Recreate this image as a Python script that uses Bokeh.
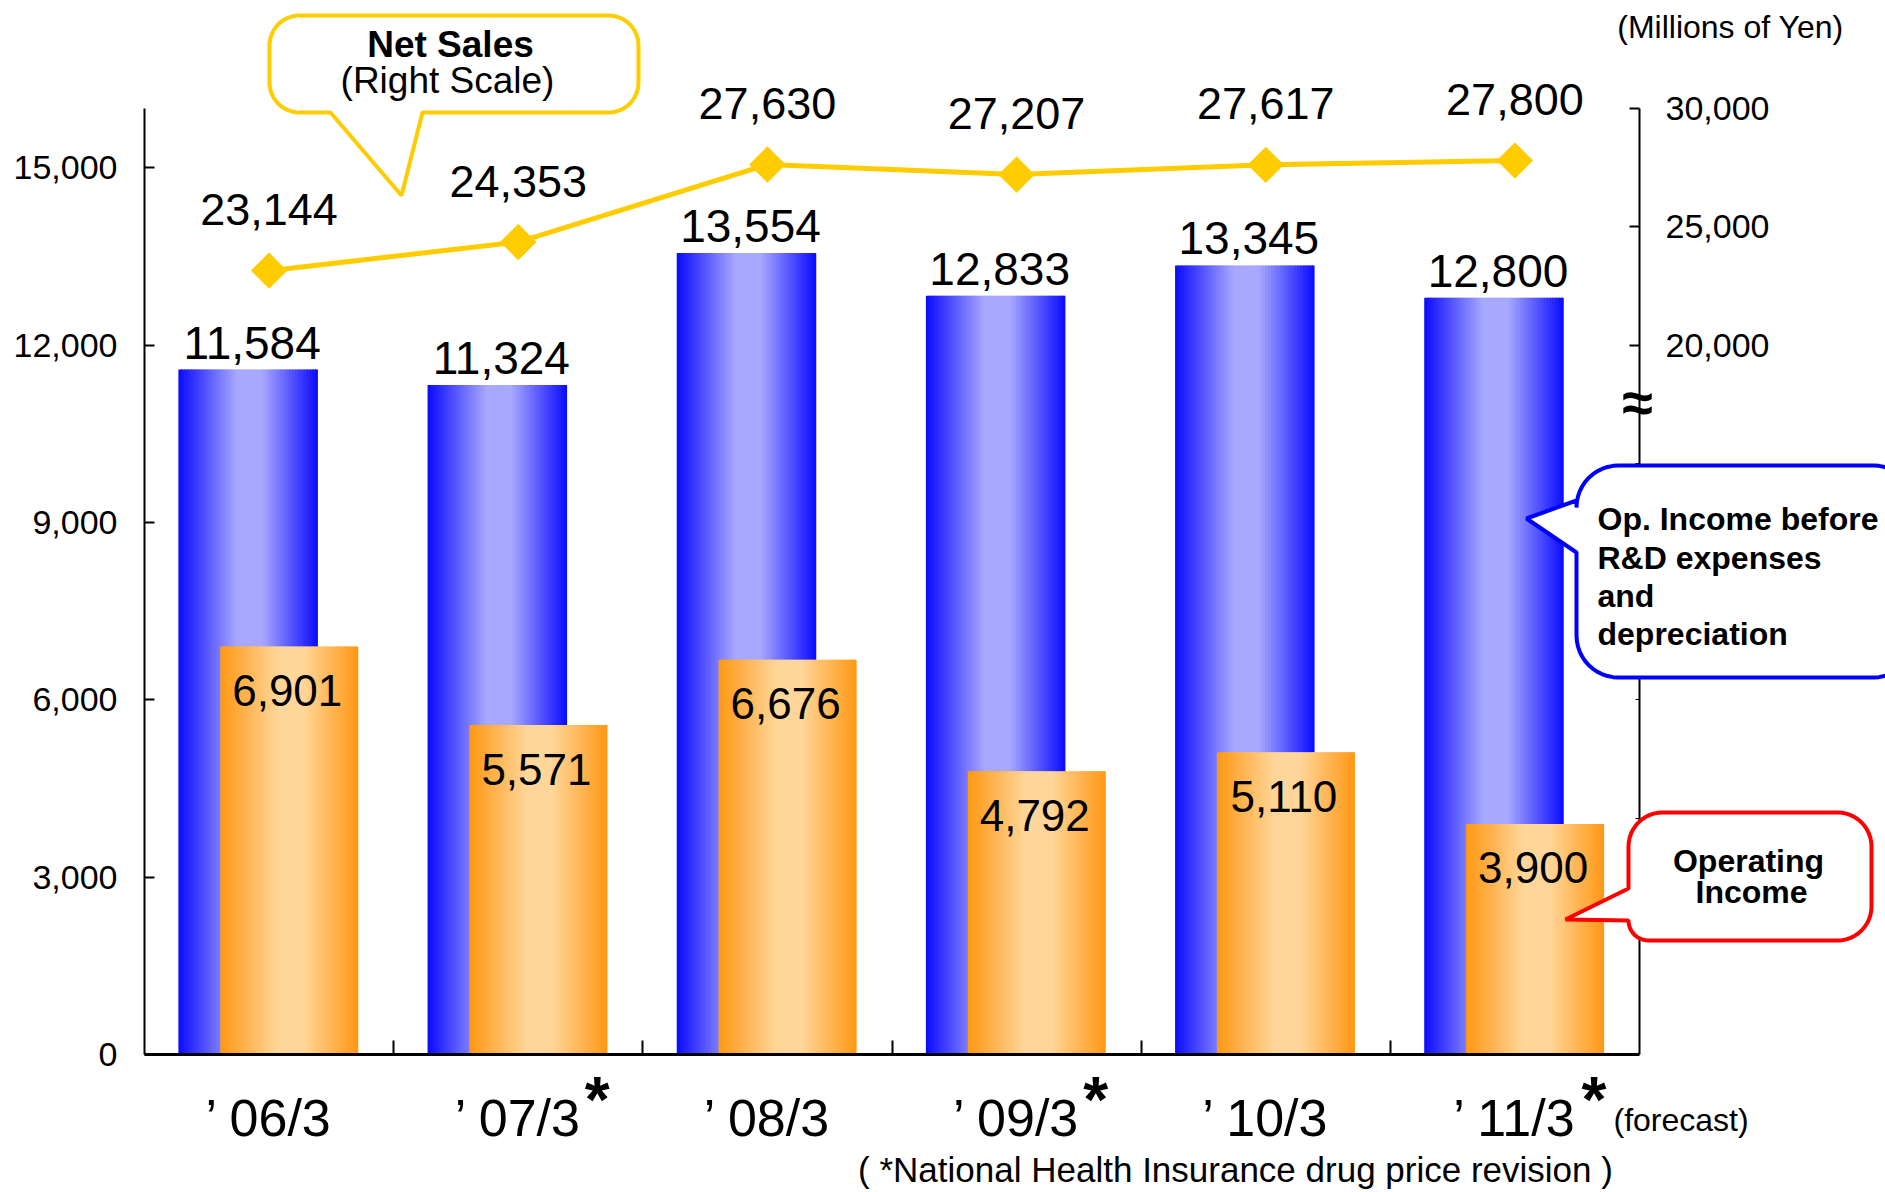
import math
from bokeh.plotting import figure
from bokeh.models import (Range1d, LinearAxis, FixedTicker, Label, LabelSet,
                          ColumnDataSource, PolyAnnotation, NumeralTickFormatter)
from bokeh.core.properties import value
from bokeh.embed import file_html
from bokeh.resources import INLINE

# ---------------- data ----------------
categories = ["’ 06/3", "’ 07/3", "’ 08/3", "’ 09/3", "’ 10/3", "’ 11/3"]
price_revision = [False, True, False, True, False, True]
op_income_before_rd = [11584, 11324, 13554, 12833, 13345, 12800]
operating_income = [6901, 5571, 6676, 4792, 5110, 3900]
net_sales = [23144, 24353, 27630, 27207, 27617, 27800]
left_ticks = [0, 3000, 6000, 9000, 12000, 15000]
right_ticks = [20000, 25000, 30000]
right_minor_ticks = [-5000, 0, 5000, 10000, 15000]

# ---------------- layout ----------------
W, H = 1885, 1192
# plot area (axes box) in canvas pixels
AX_L, AX_R, AX_T, AX_B = 144, 1639, 108, 1054
n = len(categories)
LEFT_MAX = 16000
RIGHT_MIN, RIGHT_MAX = -10000, 30000
F = "Liberation Sans"

x_per_px = n / (AX_R - AX_L)
yl_per_px = LEFT_MAX / (AX_B - AX_T)
yr_per_px = (RIGHT_MAX - RIGHT_MIN) / (AX_B - AX_T)


def px2x(px):
    return (px - AX_L) * x_per_px


def py2y(py):
    return (AX_B - py) * yl_per_px


p = figure(width=W, height=H,
           x_range=Range1d(px2x(0), px2x(W)),
           y_range=Range1d(py2y(H), py2y(0)),
           output_backend="svg", toolbar_location=None,
           min_border=0, min_border_left=0, min_border_right=0,
           min_border_top=0, min_border_bottom=0)
p.extra_y_ranges = {"ns": Range1d(RIGHT_MIN - (H - AX_B) * yr_per_px,
                                  RIGHT_MAX + AX_T * yr_per_px)}
p.xgrid.visible = False
p.ygrid.visible = False
p.outline_line_color = None
p.background_fill_color = "white"
p.border_fill_color = "white"

# ---------------- axes ----------------
ya = p.yaxis[0]
ya.fixed_location = 0
ya.bounds = (0, LEFT_MAX)
ya.ticker = FixedTicker(ticks=left_ticks)
ya.formatter = NumeralTickFormatter(format="0,0")
ya.major_tick_in = 10
ya.major_tick_out = 0
ya.minor_tick_line_color = None
ya.axis_line_width = 2
ya.major_tick_line_width = 2
ya.major_label_text_font = F
ya.major_label_text_font_size = "34px"
ya.major_label_text_color = "black"
ya.major_label_standoff = 27

centers = [i + 0.5 for i in range(n)]
xa = p.xaxis[0]
xa.fixed_location = 0
xa.bounds = (0, n)
xa.ticker = FixedTicker(ticks=centers, minor_ticks=list(range(1, n)))
xa.major_label_overrides = {c: lab for c, lab in zip(centers, categories)}
xa.major_tick_in = 0
xa.major_tick_out = 0
xa.minor_tick_in = 14
xa.minor_tick_out = 0
xa.minor_tick_line_width = 2
xa.axis_line_width = 3
xa.major_label_text_font = F
xa.major_label_text_font_size = "52px"
xa.major_label_text_color = "black"
xa.major_label_standoff = 34

ra = LinearAxis(y_range_name="ns")
ra.fixed_location = n
ra.bounds = (RIGHT_MIN, RIGHT_MAX)
ra.ticker = FixedTicker(ticks=right_ticks, minor_ticks=right_minor_ticks)
ra.formatter = NumeralTickFormatter(format="0,0")
ra.major_tick_in = 10
ra.major_tick_out = 0
ra.minor_tick_in = 4
ra.minor_tick_out = 0
ra.axis_line_width = 2
ra.major_tick_line_width = 2
ra.major_label_text_font = F
ra.major_label_text_font_size = "34px"
ra.major_label_text_color = "black"
ra.major_label_standoff = 26
p.add_layout(ra, "right")

# ---------------- gradient bars ----------------
NSTRIP = 48


def grad_color(edge, light, t):
    f = max(0.0, min(t / 0.42, (1 - t) / 0.40, 1.0))
    c = [round(e + (l - e) * f) for e, l in zip(edge, light)]
    return "#%02x%02x%02x" % tuple(c)


def gradient_bars(vals, offset, width, edge, light):
    L, R, T, C = [], [], [], []
    for i, v in enumerate(vals):
        left = i + 0.5 + offset - width / 2
        right = left + width
        sw = width / NSTRIP
        for k in range(NSTRIP):
            l = left + k * sw
            L.append(l)
            R.append(min(l + sw * 1.6, right))
            T.append(v)
            C.append(grad_color(edge, light, (k + 0.5) / NSTRIP))
    src = ColumnDataSource(dict(left=L, right=R, top=T, bottom=[0] * len(L), color=C))
    p.quad(left="left", right="right", top="top", bottom="bottom", source=src,
           fill_color="color", line_color=None)


BLUE_OFF, BLUE_W = -0.084, 0.56
OR_OFF, OR_W = 0.081, 0.554
gradient_bars(op_income_before_rd, BLUE_OFF, BLUE_W, (10, 10, 255), (168, 168, 255))
gradient_bars(operating_income, OR_OFF, OR_W, (255, 152, 20), (255, 214, 153))

# ---------------- net sales line ----------------
p.line(x=centers, y=net_sales, y_range_name="ns", line_color="#FFCC00", line_width=5)
p.scatter(x=centers, y=net_sales, y_range_name="ns", marker="square", angle=math.pi / 4,
          size=25, fill_color="#FFCC00", line_color="#FFCC00")


# ---------------- callouts ----------------
def callout(x0, y0, x1, y1, radii, side, tail):
    rtl, rtr, rbr, rbl = radii
    pts = []

    def arc(cx, cy, r, a0, a1, steps=12):
        for s in range(steps + 1):
            a = math.radians(a0 + (a1 - a0) * s / steps)
            pts.append((cx + r * math.cos(a), cy + r * math.sin(a)))

    arc(x1 - rtr, y0 + rtr, rtr, -90, 0)
    arc(x1 - rbr, y1 - rbr, rbr, 0, 90)
    if side == "bottom":
        pts.extend(tail)
    arc(x0 + rbl, y1 - rbl, rbl, 90, 180)
    if side == "left":
        pts.extend(tail)
    arc(x0 + rtl, y0 + rtl, rtl, 180, 270)
    return [px2x(a) for a, b in pts], [py2y(b) for a, b in pts]


for (box, radii, side, tail, col) in [
    ((269, 15, 638, 112), (30, 30, 30, 30), "bottom", [(422, 112), (401, 195), (330, 112)], "#FFCC00"),
    ((1576, 465, 1915, 677), (42, 42, 42, 42), "left", [(1576, 552), (1526, 518), (1576, 500)], "#0000FF"),
    ((1628, 812, 1871, 940), (34, 34, 34, 20), "left", [(1628, 920), (1565, 919), (1628, 888)], "#FF0000"),
]:
    xs, ys = callout(*box, radii, side, tail)
    p.add_layout(PolyAnnotation(xs=xs, ys=ys, fill_color="white", fill_alpha=1.0,
                                line_color=col, line_width=4, line_alpha=1.0))

# ---------------- value labels ----------------
blue_src = ColumnDataSource(dict(x=[c + BLUE_OFF for c in centers], y=op_income_before_rd,
                                 t=[f"{v:,}" for v in op_income_before_rd]))
p.add_layout(LabelSet(x="x", y="y", text="t", source=blue_src, x_offset=4, y_offset=27,
                      text_align="center", text_baseline="middle", text_font=value(F),
                      text_font_size="46px", text_color="black"))

or_src = ColumnDataSource(dict(x=[c + OR_OFF for c in centers], y=operating_income,
                               t=[f"{v:,}" for v in operating_income]))
p.add_layout(LabelSet(x="x", y="y", text="t", source=or_src, x_offset=-2, y_offset=-44,
                      text_align="center", text_baseline="middle", text_font=value(F),
                      text_font_size="44px", text_color="black"))

ns_src = ColumnDataSource(dict(x=centers, y=net_sales, t=[f"{v:,}" for v in net_sales]))
p.add_layout(LabelSet(x="x", y="y", text="t", source=ns_src, y_range_name="ns", y_offset=61,
                      text_align="center", text_baseline="middle", text_font=value(F),
                      text_font_size="45px", text_color="black"))

# asterisks marking drug price revision years
ast_x = [c for c, r in zip(centers, price_revision) if r]
ast_src = ColumnDataSource(dict(x=ast_x, y=[0] * len(ast_x), t=["*"] * len(ast_x)))
p.add_layout(LabelSet(x="x", y="y", text="t", source=ast_src, x_offset=79, y_offset=-(1121 - AX_B),
                      text_align="center", text_baseline="alphabetic", text_font=value(F),
                      text_font_style="bold", text_font_size="64px", text_color="black"))


def add_text(px, py, text, size, align="center", bold=False, font=F):
    p.add_layout(Label(x=px2x(px), y=py2y(py), text=text, text_align=align,
                       text_baseline="middle", text_font=font, text_font_size=f"{size}px",
                       text_font_style="bold" if bold else "normal", text_color="black"))


add_text(1613, 1119, "(forecast)", 32, align="left")
add_text(1235, 1169, "( *National Health Insurance drug price revision )", 35)
add_text(1730, 26, "(Millions of Yen)", 32)
add_text(450, 44, "Net Sales", 37, bold=True)
add_text(447, 80, "(Right Scale)", 37)
add_text(1597, 518, "Op. Income before", 32, align="left", bold=True)
add_text(1597, 557, "R&D expenses", 32, align="left", bold=True)
add_text(1597, 595, "and", 32, align="left", bold=True)
add_text(1597, 633, "depreciation", 32, align="left", bold=True)
add_text(1748, 860, "Operating", 32, bold=True)
add_text(1751, 891, "Income", 32, bold=True)
add_text(1637, 402, "≈", 56, bold=True)

open("out.html", "w").write(file_html(p, INLINE))
